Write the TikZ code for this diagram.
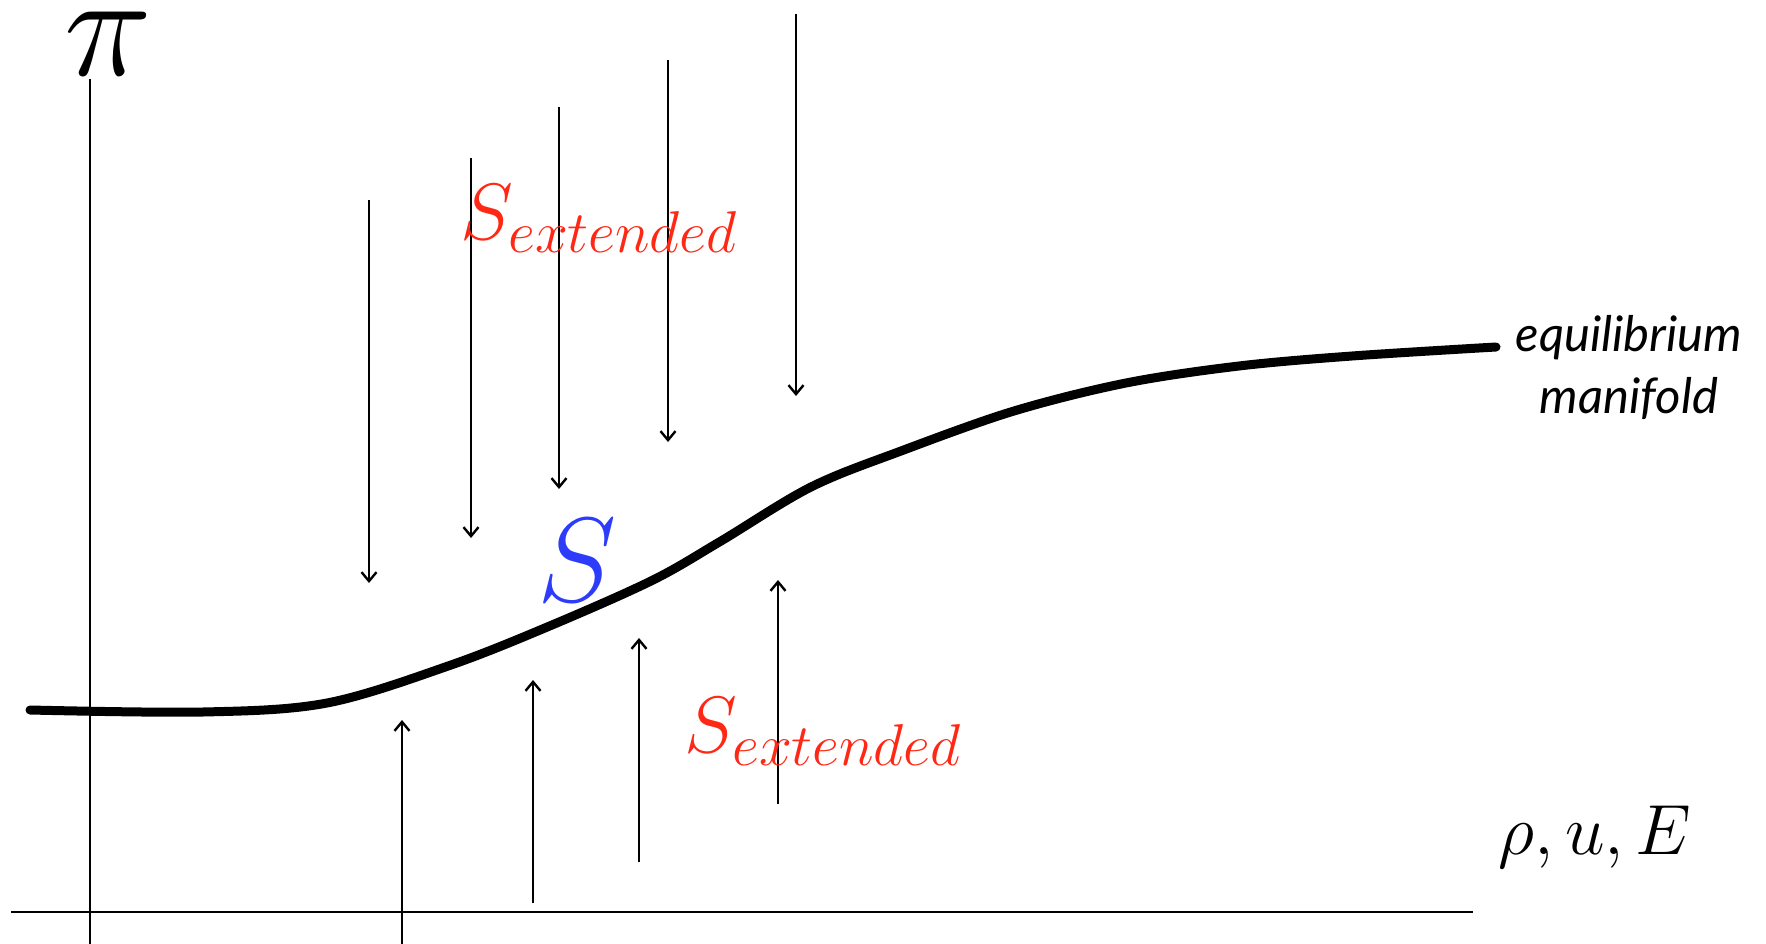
\RequirePackage{fix-cm}
\documentclass[tikz,border=0pt]{standalone}
\usepackage{graphicx}
\usepackage{fontspec}
\newfontfamily\labelfont{Lato}
\usetikzlibrary{arrows.meta}
\definecolor{extred}{RGB}{255,40,20}
\definecolor{sblue}{RGB}{45,60,250}
\newcommand{\extlabel}{\fontsize{80}{96}\selectfont$S_{\mbox{\fontsize{59}{60}\selectfont$extended$}}$}
\newcommand{\bigpi}{\scalebox{1.1}[1.09]{\fontsize{135}{150}\selectfont$\pi$}}
\begin{document}
\begin{tikzpicture}[x=1pt,y=-1pt,
  axis/.style={line width=2.4pt},
  flow/.style={line width=2.4pt,-{Straight Barb[length=9pt,width=15pt]}},
  manifold/.style={line width=9pt,line cap=round},
  lbl/.style={inner sep=0pt}]
\useasboundingbox (0,0) rectangle (1766,944);
% axes
\coordinate (yb) at (90,944);
\coordinate (yt) at (90,79);
\coordinate (xl) at (11,912);
\coordinate (xr) at (1473,912);
\draw[axis] (yb) -- (yt);
\draw[axis] (xl) -- (xr);
\node[lbl] (pi) at (108,44) {\bigpi};
\node[lbl,anchor=base west] (vars) at (1498,854) {\fontsize{71}{80}\selectfont$\rho, u, E$};
% manifold curve
\draw[manifold] plot[smooth,tension=0.55] coordinates {(30,710) (203,712) (327,703) (451,665) (552,625) (653,580) (721,541) (811,487) (901,451) (1014,411) (1126,383) (1239,366) (1352,356) (1496,347)};
\node[lbl,align=center,font=\labelfont\itshape\fontsize{49}{62}\selectfont] (eq) at (1629,368) {equilibrium\\manifold};
% down arrows
\foreach \n/\x/\a/\b in {1/369/200/583, 2/471/158/538, 3/559/107/489, 4/668/60/442, 5/796/14/396} {
  \coordinate (d\n s) at (\x,\a);
  \coordinate (d\n e) at (\x,\b);
  \draw[flow] (d\n s) -- (d\n e);
}
% up arrows
\foreach \n/\x/\a/\b in {1/402/944/720, 2/533/903/680, 3/639/862/638, 4/778/804/580} {
  \coordinate (u\n s) at (\x,\a);
  \coordinate (u\n e) at (\x,\b);
  \draw[flow] (u\n s) -- (u\n e);
}
\node[lbl,anchor=base west,text=extred] (ext1) at (460,239) {\extlabel};
\node[lbl,anchor=base west,text=extred] (ext2) at (684,752) {\extlabel};
\node[lbl,text=sblue] (S) at (577,560) {\fontsize{120}{140}\selectfont$S$};
\end{tikzpicture}
\end{document}
